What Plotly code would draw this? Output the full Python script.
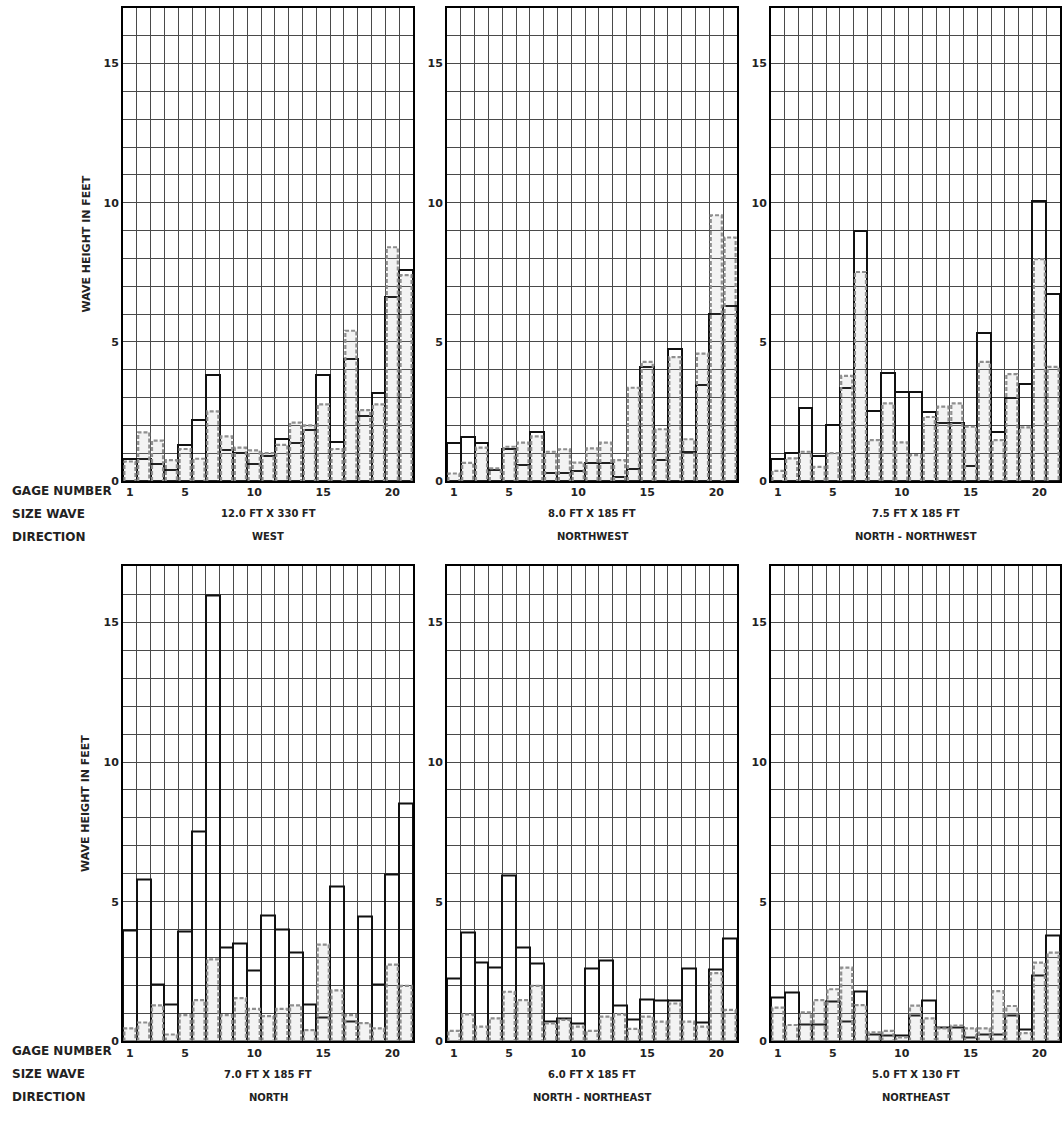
import plotly.graph_objects as go

W, H = 1062, 1126

gages = list(range(1, 22))
x_tick_vals = [1, 5, 10, 15, 20]
y_tick_vals = [0, 5, 10, 15]

west_solid = [0.8, 0.8, 0.6, 0.4, 1.3, 2.2, 3.8, 1.1, 1.0, 0.6, 0.9, 1.5, 1.35, 1.85, 3.8, 1.4, 4.4, 2.35, 3.15, 6.6, 7.6]
west_dashed = [0.7, 1.75, 1.45, 0.75, 1.15, 0.8, 2.5, 1.6, 1.2, 1.1, 1.0, 1.3, 2.1, 2.0, 2.75, 1.15, 5.4, 2.55, 2.75, 8.4, 7.4]

nw_solid = [1.38, 1.59, 1.38, 0.41, 1.14, 0.57, 1.76, 0.3, 0.3, 0.36, 0.65, 0.65, 0.15, 0.45, 4.1, 0.75, 4.75, 1.05, 3.45, 6.0, 6.3]
nw_dashed = [0.27, 0.65, 1.2, 0.45, 1.23, 1.38, 1.6, 1.05, 1.14, 0.66, 1.17, 1.38, 0.75, 3.35, 4.28, 1.86, 4.45, 1.5, 4.58, 9.55, 8.75]

nnw_solid = [0.81, 0.99, 2.63, 0.91, 2.01, 3.36, 9.0, 2.52, 3.89, 3.2, 3.2, 2.49, 2.09, 2.09, 0.54, 5.33, 1.77, 2.97, 3.47, 10.05, 6.71]
nnw_dashed = [0.36, 0.81, 1.05, 0.51, 1.0, 3.78, 7.51, 1.47, 2.79, 1.39, 0.93, 2.3, 2.67, 2.79, 1.95, 4.28, 1.47, 3.84, 1.93, 7.97, 4.1]

n_solid = [3.98, 5.79, 2.05, 1.33, 3.93, 7.5, 15.97, 3.35, 3.51, 2.53, 4.52, 4.02, 3.19, 1.33, 0.85, 5.54, 0.72, 4.49, 2.03, 5.98, 8.52]
n_dashed = [0.47, 0.68, 1.29, 0.25, 0.94, 1.48, 2.94, 0.94, 1.55, 1.17, 0.91, 1.17, 1.29, 0.41, 3.47, 1.83, 0.94, 0.66, 0.47, 2.75, 1.99]

nne_solid = [2.25, 3.91, 2.84, 2.64, 5.95, 3.38, 2.78, 0.71, 0.83, 0.65, 2.61, 2.9, 1.3, 0.79, 1.5, 1.48, 1.48, 2.61, 0.68, 2.57, 3.67]
nne_dashed = [0.38, 0.97, 0.53, 0.83, 1.78, 1.48, 1.99, 0.65, 0.77, 0.53, 0.38, 0.89, 0.97, 0.45, 0.89, 0.71, 1.36, 0.71, 0.53, 2.45, 1.13]

ne_solid = [1.56, 1.74, 0.62, 0.62, 1.45, 0.71, 1.78, 0.24, 0.2, 0.2, 0.92, 1.48, 0.5, 0.5, 0.14, 0.26, 0.26, 0.92, 0.44, 2.35, 3.79]
ne_dashed = [1.21, 0.59, 1.04, 1.48, 1.87, 2.64, 1.3, 0.33, 0.38, 0.15, 1.28, 0.83, 0.47, 0.57, 0.47, 0.47, 1.8, 1.27, 0.3, 2.82, 3.18]

wave_sizes = ["12.0 FT X 330 FT", "8.0 FT X 185 FT", "7.5 FT X 185 FT",
              "7.0 FT X 185 FT", "6.0 FT X 185 FT", "5.0 FT X 130 FT"]
directions = ["WEST", "NORTHWEST", "NORTH - NORTHWEST",
              "NORTH", "NORTH - NORTHEAST", "NORTHEAST"]
solid_series = [west_solid, nw_solid, nnw_solid, n_solid, nne_solid, ne_solid]
dashed_series = [west_dashed, nw_dashed, nnw_dashed, n_dashed, nne_dashed, ne_dashed]

FONT = "DejaVu Sans"
INK = "#222"
GRID = "#4a4a4a"

# page-pixel boxes of the panels (left, right) and (top, bottom)
cols_px = [(123, 413), (447, 737), (771, 1060)]
rows_px = [(8, 484), (570, 1048)]


def px_x(v):
    return v / W


def px_y(v):
    return (H - v) / H


def dashed_outline(values, half=0.4):
    xs, ys = [], []
    for g, v in zip(gages, values):
        xs += [g - half, g - half, g + half, g + half, None]
        ys += [0, v, v, 0, None]
    return xs, ys


fig = go.Figure()
annotations = []

for i in range(6):
    r, c = divmod(i, 3)
    n = i + 1
    xa = "x" if n == 1 else f"x{n}"
    ya = "y" if n == 1 else f"y{n}"

    xs, ys = dashed_outline(dashed_series[i])
    fig.add_trace(go.Scatter(
        x=xs, y=ys, mode="lines", xaxis=xa, yaxis=ya,
        line=dict(color="#8f8f8f", width=2.2, dash="4px,2px"),
        fill="toself", fillcolor="rgba(160,160,160,0.12)",
        showlegend=False, hoverinfo="skip",
    ))
    fig.add_trace(go.Bar(
        x=gages, y=solid_series[i], width=1.0, xaxis=xa, yaxis=ya,
        marker=dict(color="rgba(0,0,0,0)", line=dict(color="#111", width=2)),
        showlegend=False,
    ))

    left, right = cols_px[c]
    top, bottom = rows_px[r]
    xkey = "xaxis" if n == 1 else f"xaxis{n}"
    ykey = "yaxis" if n == 1 else f"yaxis{n}"
    fig.layout[xkey] = dict(
        domain=[px_x(left), px_x(right)], anchor=ya, range=[0.5, 21.5],
        tickmode="array", tickvals=x_tick_vals, showgrid=False,
        minor=dict(tickmode="linear", tick0=0.5, dtick=1, showgrid=True,
                   gridcolor=GRID, gridwidth=1),
        showline=True, mirror=True, linecolor="#000", linewidth=2,
        ticks="", zeroline=False, fixedrange=True,
        tickfont=dict(family=FONT, size=11, color=INK, weight="bold"),
    )
    fig.layout[ykey] = dict(
        domain=[px_y(bottom), px_y(top)], anchor=xa, range=[0, 17],
        tickmode="array", tickvals=y_tick_vals, showgrid=True,
        gridcolor=GRID, gridwidth=1,
        minor=dict(tickmode="linear", tick0=0, dtick=1, showgrid=True,
                   gridcolor=GRID, gridwidth=1),
        showline=True, mirror=True, linecolor="#000", linewidth=2,
        ticks="", zeroline=False, fixedrange=True,
        tickfont=dict(family=FONT, size=11, color=INK, weight="bold"),
    )

    cx = px_x((left + right) / 2)
    annotations.append(dict(
        text=wave_sizes[i], x=cx, y=px_y(bottom + 33), xref="paper", yref="paper",
        showarrow=False, xanchor="center", yanchor="middle",
        font=dict(family=FONT, size=10, color=INK, weight="bold"),
    ))
    annotations.append(dict(
        text=directions[i], x=cx, y=px_y(bottom + 56), xref="paper", yref="paper",
        showarrow=False, xanchor="center", yanchor="middle",
        font=dict(family=FONT, size=10, color=INK, weight="bold"),
    ))

for top, bottom in rows_px:
    for k, label in enumerate(["GAGE NUMBER", "SIZE WAVE", "DIRECTION"]):
        annotations.append(dict(
            text=label, x=px_x(10), y=px_y(bottom + 10 + 23 * k),
            xref="paper", yref="paper", showarrow=False,
            xanchor="left", yanchor="middle",
            font=dict(family=FONT, size=12, color=INK, weight="bold"),
        ))
    annotations.append(dict(
        text="WAVE HEIGHT IN FEET", x=px_x(86), y=px_y((top + bottom) / 2),
        xref="paper", yref="paper", showarrow=False, textangle=-90,
        xanchor="center", yanchor="middle",
        font=dict(family=FONT, size=11, color=INK, weight="bold"),
    ))

fig.update_layout(
    width=W, height=H,
    margin=dict(l=0, r=0, t=0, b=0),
    paper_bgcolor="white", plot_bgcolor="white",
    barmode="overlay", bargap=0,
    annotations=annotations,
    showlegend=False,
)

# drop the browser's default 8px body margin so the figure fills the window
fig.write_html(
    "out.html",
    config={"displayModeBar": False},
    post_script="document.body.style.margin='0';",
)
